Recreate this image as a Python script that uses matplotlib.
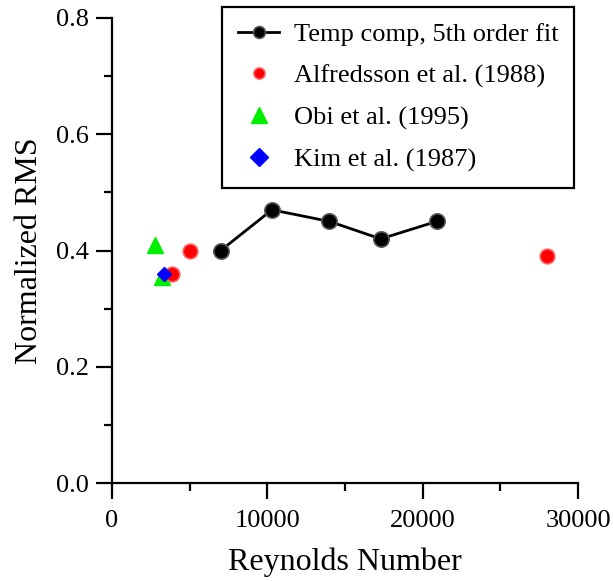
import matplotlib
matplotlib.use("Agg")
import matplotlib.pyplot as plt
from matplotlib.ticker import MultipleLocator

temp_re = [7000, 10300, 14000, 17300, 20900]
temp_rms = [0.40, 0.47, 0.45, 0.42, 0.45]
alf_re = [3850, 5000, 28000]
alf_rms = [0.36, 0.40, 0.39]
obi_re = [2800, 3250]
obi_rms = [0.41, 0.355]
kim_re = [3350]
kim_rms = [0.36]

plt.rcParams['font.family'] = ['Liberation Serif', 'DejaVu Serif']

fig = plt.figure(figsize=(6.13, 5.81), dpi=100)
ax = fig.add_axes([112/613, 1-483/581, (578-112)/613, (483-18)/581])

ax.plot(temp_re, temp_rms, '-o', color='black', lw=2, ms=11, mfc='black',
        mec='#555555', mew=1.2, label='Temp comp, 5th order fit', zorder=3,
        clip_on=False)
ax.plot(alf_re, alf_rms, 'o', color='red', ms=10.5, mfc='#ff0000', mec='#ff6060',
        mew=1.2, ls='none', label='Alfredsson et al. (1988)', zorder=4)
ax.plot(obi_re, obi_rms, '^', color='#00ee00', ms=12, mec='#00ee00', ls='none',
        label='Obi et al. (1995)', zorder=3)
ax.plot(kim_re, kim_rms, 'D', color='#0000ff', ms=7.5, mec='#0000ff', ls='none',
        label='Kim et al. (1987)', zorder=5)

ax.set_xlim(0, 30000)
ax.set_ylim(0, 0.8)
ax.set_xticks([0, 10000, 20000, 30000])
ax.set_yticks([0.0, 0.2, 0.4, 0.6, 0.8])
ax.set_yticklabels(['0.0', '0.2', '0.4', '0.6', '0.8'])
ax.xaxis.set_minor_locator(MultipleLocator(5000))
ax.yaxis.set_minor_locator(MultipleLocator(0.1))
for s in ['top', 'right']:
    ax.spines[s].set_visible(False)
for s in ['left', 'bottom']:
    ax.spines[s].set_linewidth(1.6)
ax.tick_params(which='major', direction='out', length=11.5, width=1.6,
               labelsize=19)
ax.tick_params(axis='y', which='major', pad=5)
ax.tick_params(axis='x', which='major', pad=8)
ax.tick_params(which='minor', direction='out', length=6, width=1.6)
ax.set_xlabel('Reynolds Number', fontsize=23, labelpad=11)
ax.set_ylabel('Normalized RMS', fontsize=23, labelpad=9)

leg = ax.legend(loc='upper right', bbox_to_anchor=(0.9915, 1.0237), fontsize=19,
                frameon=True, fancybox=False, edgecolor='black',
                handlelength=1.55, handletextpad=0.55, borderpad=0.6,
                labelspacing=0.68, borderaxespad=0)
leg.get_frame().set_linewidth(1.6)
leg.get_frame().set_alpha(1)
hs = leg.legend_handles
hs[0].set_markersize(8.5)
hs[1].set_markersize(8)
hs[2].set_markersize(11)
hs[3].set_markersize(9)

fig.savefig('out.png', dpi=100)
